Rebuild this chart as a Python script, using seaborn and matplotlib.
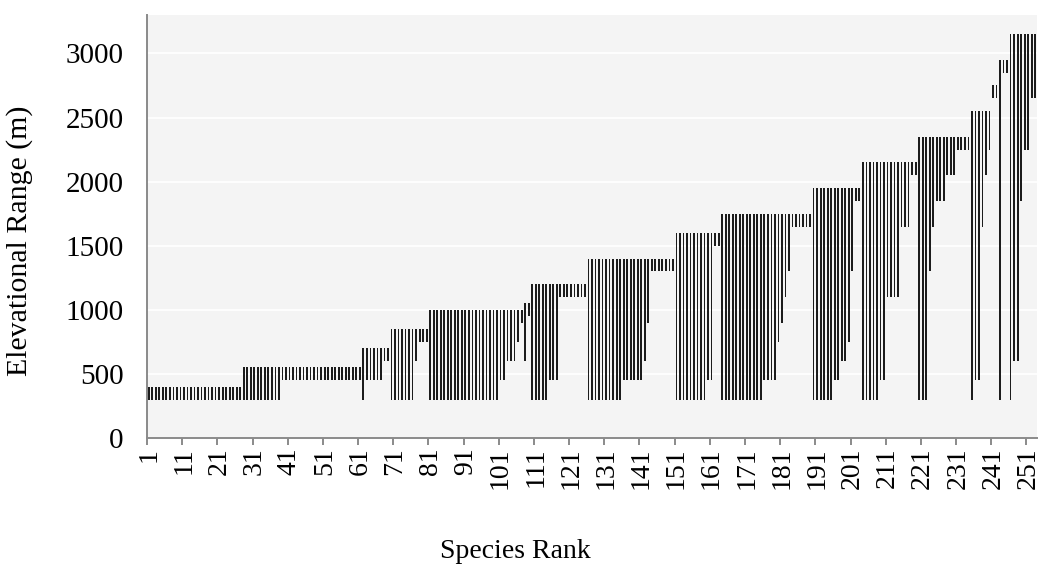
import numpy as np
import pandas as pd
import matplotlib
matplotlib.use("Agg")
import matplotlib.pyplot as plt
from matplotlib.ticker import FixedLocator
import seaborn as sns

# Elevational ranges (m), stored as runs of consecutive ranked species
# that share the same lower and upper limit.
band_count = [27, 11, 23, 1, 5, 2, 7, 1, 3, 20, 2, 3, 1, 1, 1, 1,
              5, 3, 8, 10, 6, 1, 1, 7, 9, 2, 2, 12, 4, 1, 1, 1, 1, 6,
              6, 2, 2, 1, 1, 2, 5, 2, 4, 3, 2, 3, 1, 1, 3, 3, 4,
              1, 2, 1, 1, 1, 2, 1, 2, 1, 2, 1, 2, 2]
band_low = [300, 300, 450, 300, 450, 600, 300, 600, 750, 300, 450, 600, 750, 900, 600, 950,
            300, 450, 1100, 300, 450, 600, 900, 1300, 300, 450, 1500, 300, 450, 750, 900, 1100, 1300, 1650,
            300, 450, 600, 750, 1300, 1850, 300, 450, 1100, 1650, 2050, 300, 1300, 1650, 1850, 2050, 2250,
            300, 450, 1650, 2050, 2250, 2650, 300, 2850, 300, 600, 1850, 2250, 2650]
band_high = [400, 550, 550, 700, 700, 700, 850, 850, 850, 1000, 1000, 1000, 1000, 1000, 1050, 1050,
             1200, 1200, 1200, 1400, 1400, 1400, 1400, 1400, 1600, 1600, 1600, 1750, 1750, 1750, 1750, 1750, 1750, 1750,
             1950, 1950, 1950, 1950, 1950, 1950, 2150, 2150, 2150, 2150, 2150, 2350, 2350, 2350, 2350, 2350, 2350,
             2550, 2550, 2550, 2550, 2550, 2750, 2950, 2950, 3150, 3150, 3150, 3150, 3150]

y_ticks = [0, 500, 1000, 1500, 2000, 2500, 3000]
label_every = 10

low = np.repeat(band_low, band_count)
high = np.repeat(band_high, band_count)
n = len(low)
ranks = [str(i) for i in range(1, n + 1)]
df = pd.DataFrame({"rank": ranks, "span": high - low, "low": low})

sns.set_theme(style="whitegrid")
plt.rcParams["font.family"] = ["Liberation Serif", "DejaVu Serif"]

W, H = 1041, 570
fig = plt.figure(figsize=(W / 100, H / 100), dpi=100)
fig.patch.set_facecolor("white")
ax = fig.add_axes([147 / W, 1 - 438 / H, 890 / W, 423 / H])

# floating bars: each species spans from its lower to its upper limit
sns.barplot(data=df, x="rank", y="span", order=ranks, bottom=df["low"].to_numpy(),
            width=0.5, color="#1c1c1c", saturation=1, errorbar=None,
            linewidth=0, ax=ax)

ax.set_facecolor("#f4f4f4")
ax.set_xlim(-0.5, n - 0.5)
ax.set_ylim(0, 3300)
ax.set_yticks(y_ticks)
ax.set_yticklabels([str(v) for v in y_ticks])

label_pos = list(range(0, n, label_every))
ax.set_xticks(label_pos)
ax.set_xticklabels([ranks[i] for i in label_pos], rotation=90)
ax.xaxis.set_minor_locator(FixedLocator([p - 0.5 for p in label_pos]))

ax.grid(False, axis="x")
ax.grid(True, axis="y", color="white", linewidth=1.2)
ax.set_axisbelow(True)

for side in ["top", "right"]:
    ax.spines[side].set_visible(False)
for side in ["left", "bottom"]:
    ax.spines[side].set_visible(True)
    ax.spines[side].set_color("#8a8a8a")
    ax.spines[side].set_linewidth(1.4)

ax.tick_params(axis="x", which="major", length=0, pad=7, labelsize=20, colors="black")
ax.tick_params(axis="x", which="minor", length=5, width=1.4, color="#8a8a8a", bottom=True)
ax.tick_params(axis="y", length=0, pad=17, labelsize=21, colors="black")

ax.set_xlabel("")
ax.set_ylabel("")
fig.text(20 / W, 1 - 241 / H, "Elevational Range (m)", rotation=90,
         ha="center", va="center", fontsize=21.5, color="black")
fig.text(515 / W, 1 - 552 / H, "Species Rank", ha="center", va="center",
         fontsize=20, color="black")

fig.savefig("out.png", dpi=100, facecolor="white")
